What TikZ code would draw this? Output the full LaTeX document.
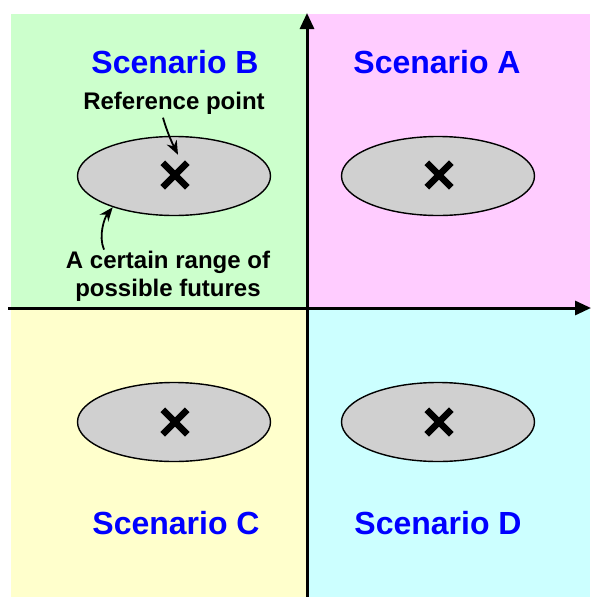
\documentclass[tikz,border=0pt]{standalone}
\usepackage{fontspec}
\setmainfont{Liberation Sans}
\usetikzlibrary{arrows.meta,shapes.geometric,shapes.misc}

\definecolor{qgreen}{HTML}{CCFFCC}
\definecolor{qpink}{HTML}{FFCCFF}
\definecolor{qyellow}{HTML}{FFFFCC}
\definecolor{qcyan}{HTML}{CCFFFF}
\definecolor{rangegray}{HTML}{D0D0D0}

\begin{document}
\begin{tikzpicture}[
    x=1pt, y=-1pt,
    font=\bfseries,
    axis/.style={line width=3pt, -{Triangle[length=16pt,width=14pt]}},
    futures/.style={ellipse, draw, line width=1.4pt, fill=rangegray, minimum width=193pt, minimum height=79pt},
    refmark/.style={cross out, draw, line width=6.5pt, minimum size=18pt, inner sep=0pt},
    scen/.style={text=blue, font=\bfseries\fontsize{32}{36}\selectfont},
    note/.style={align=center, font=\bfseries\fontsize{24}{28}\selectfont},
    curl/.style={-{Stealth[length=14pt,width=11pt]}, line width=1.8pt}
]
\useasboundingbox (0,0) rectangle (590,597);

% Quadrant backgrounds
\fill[qgreen]  (11,14)  rectangle (307,308);
\fill[qpink]   (307,14) rectangle (590,308);
\fill[qyellow] (11,308) rectangle (307,597);
\fill[qcyan]   (307,308) rectangle (590,597);

% Axes
\draw[axis] (307,597) -- (307,13);
\draw[axis] (8,308) -- (591,308);

% Ranges of possible futures with reference points
\node[futures] (rangeB) at (174,176) {};
\node[futures] (rangeA) at (438,176) {};
\node[futures] (rangeC) at (174,422) {};
\node[futures] (rangeD) at (438,422) {};
\node[refmark] (refB) at (175,175) {};
\node[refmark] (refA) at (439,175) {};
\node[refmark] (refC) at (175,422) {};
\node[refmark] (refD) at (439,422) {};

% Scenario labels
\node[scen] (scenB) at (175,62) {Scenario B};
\node[scen] (scenA) at (437,62) {Scenario A};
\node[scen] (scenC) at (176,523) {Scenario C};
\node[scen] (scenD) at (438,523) {Scenario D};

% Annotations
\node[note] (refpt) at (174,103) {Reference point};
\node[note, inner sep=1pt] (rangetxt) at (168,276) {A certain range of\\possible futures};
\draw[curl] ([xshift=-11pt]refpt.south) .. controls +(4,14) and +(-6,-12) .. ([shift={(3,-8)}]refB.north);
\draw[curl] ([xshift=-64pt]rangetxt.north) .. controls +(-6,-14) and +(-8,10) .. (rangeB.-153);

\end{tikzpicture}
\end{document}
